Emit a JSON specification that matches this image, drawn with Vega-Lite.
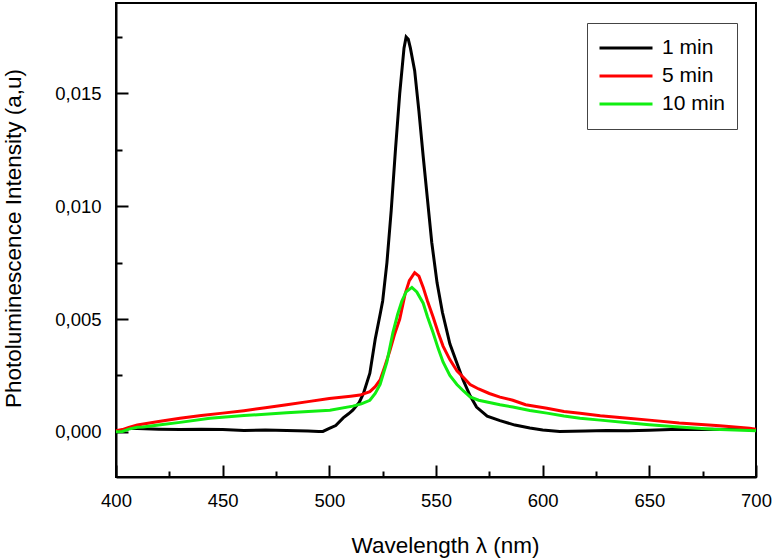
{
  "$schema": "https://vega.github.io/schema/vega-lite/v6.json",
  "autosize": "none",
  "padding": {"left": 116, "top": 3, "right": 18, "bottom": 81},
  "width": 640,
  "height": 474,
  "background": "white",
  "config": {
    "view": {"stroke": "#000", "strokeWidth": 2},
    "font": "Liberation Sans",
    "axis": {"grid": false}
  },
  "datasets": {
    "pl": [
      {"t": "1 min", "w": 400, "v": 0.00005},
      {"t": "1 min", "w": 403, "v": 0.00005},
      {"t": "1 min", "w": 406, "v": 0.00015},
      {"t": "1 min", "w": 410, "v": 0.00015},
      {"t": "1 min", "w": 420, "v": 0.00012},
      {"t": "1 min", "w": 430, "v": 0.0001},
      {"t": "1 min", "w": 440, "v": 0.00012},
      {"t": "1 min", "w": 450, "v": 0.0001},
      {"t": "1 min", "w": 460, "v": 0.00006},
      {"t": "1 min", "w": 470, "v": 0.00008},
      {"t": "1 min", "w": 480, "v": 0.00006},
      {"t": "1 min", "w": 490, "v": 0.00004},
      {"t": "1 min", "w": 495, "v": 0.00002},
      {"t": "1 min", "w": 497, "v": 0.00002},
      {"t": "1 min", "w": 500, "v": 0.00015},
      {"t": "1 min", "w": 503, "v": 0.00028},
      {"t": "1 min", "w": 506.5, "v": 0.00062},
      {"t": "1 min", "w": 509, "v": 0.0008},
      {"t": "1 min", "w": 511, "v": 0.00096},
      {"t": "1 min", "w": 514, "v": 0.0013},
      {"t": "1 min", "w": 516, "v": 0.0017},
      {"t": "1 min", "w": 519, "v": 0.0026},
      {"t": "1 min", "w": 521.5, "v": 0.0041},
      {"t": "1 min", "w": 524, "v": 0.0053},
      {"t": "1 min", "w": 525, "v": 0.0058},
      {"t": "1 min", "w": 527, "v": 0.0075},
      {"t": "1 min", "w": 529, "v": 0.0098},
      {"t": "1 min", "w": 531, "v": 0.0125},
      {"t": "1 min", "w": 533, "v": 0.015},
      {"t": "1 min", "w": 535, "v": 0.017},
      {"t": "1 min", "w": 536, "v": 0.0175},
      {"t": "1 min", "w": 537, "v": 0.0174},
      {"t": "1 min", "w": 538, "v": 0.017},
      {"t": "1 min", "w": 540, "v": 0.016},
      {"t": "1 min", "w": 542, "v": 0.0142},
      {"t": "1 min", "w": 544, "v": 0.0122},
      {"t": "1 min", "w": 546, "v": 0.0103},
      {"t": "1 min", "w": 548, "v": 0.0084},
      {"t": "1 min", "w": 550.5, "v": 0.0066},
      {"t": "1 min", "w": 553, "v": 0.0053},
      {"t": "1 min", "w": 556.5, "v": 0.0039},
      {"t": "1 min", "w": 560, "v": 0.003},
      {"t": "1 min", "w": 562.7, "v": 0.0023},
      {"t": "1 min", "w": 566, "v": 0.0016},
      {"t": "1 min", "w": 569, "v": 0.0011},
      {"t": "1 min", "w": 574, "v": 0.0007},
      {"t": "1 min", "w": 580, "v": 0.0005},
      {"t": "1 min", "w": 587, "v": 0.0003},
      {"t": "1 min", "w": 594, "v": 0.00017},
      {"t": "1 min", "w": 600, "v": 0.00008},
      {"t": "1 min", "w": 608, "v": 0.00002},
      {"t": "1 min", "w": 620, "v": 0.00004},
      {"t": "1 min", "w": 630, "v": 0.00006},
      {"t": "1 min", "w": 640, "v": 0.00005},
      {"t": "1 min", "w": 650, "v": 0.00007},
      {"t": "1 min", "w": 660, "v": 0.0001},
      {"t": "1 min", "w": 670, "v": 0.0001},
      {"t": "1 min", "w": 680, "v": 0.00012},
      {"t": "1 min", "w": 690, "v": 0.0001},
      {"t": "1 min", "w": 700, "v": 0.0001},

      {"t": "5 min", "w": 400, "v": 0.00005},
      {"t": "5 min", "w": 403, "v": 0.0001},
      {"t": "5 min", "w": 406, "v": 0.0002},
      {"t": "5 min", "w": 410, "v": 0.0003},
      {"t": "5 min", "w": 420, "v": 0.00046},
      {"t": "5 min", "w": 430, "v": 0.0006},
      {"t": "5 min", "w": 440, "v": 0.00072},
      {"t": "5 min", "w": 450, "v": 0.00083},
      {"t": "5 min", "w": 460, "v": 0.00094},
      {"t": "5 min", "w": 470, "v": 0.00107},
      {"t": "5 min", "w": 480, "v": 0.0012},
      {"t": "5 min", "w": 490, "v": 0.00134},
      {"t": "5 min", "w": 500, "v": 0.00148},
      {"t": "5 min", "w": 510, "v": 0.00158},
      {"t": "5 min", "w": 514.4, "v": 0.00163},
      {"t": "5 min", "w": 519, "v": 0.00178},
      {"t": "5 min", "w": 521.5, "v": 0.002},
      {"t": "5 min", "w": 523.8, "v": 0.0023},
      {"t": "5 min", "w": 526, "v": 0.0029},
      {"t": "5 min", "w": 528.4, "v": 0.0036},
      {"t": "5 min", "w": 530.5, "v": 0.0043},
      {"t": "5 min", "w": 533, "v": 0.005},
      {"t": "5 min", "w": 535.5, "v": 0.0061},
      {"t": "5 min", "w": 537.5, "v": 0.0067},
      {"t": "5 min", "w": 540, "v": 0.00705},
      {"t": "5 min", "w": 542, "v": 0.0069},
      {"t": "5 min", "w": 544, "v": 0.0064},
      {"t": "5 min", "w": 546, "v": 0.0058},
      {"t": "5 min", "w": 548.6, "v": 0.0051},
      {"t": "5 min", "w": 551, "v": 0.0044},
      {"t": "5 min", "w": 553.3, "v": 0.0038},
      {"t": "5 min", "w": 556.5, "v": 0.0032},
      {"t": "5 min", "w": 559.8, "v": 0.0027},
      {"t": "5 min", "w": 563, "v": 0.0024},
      {"t": "5 min", "w": 566, "v": 0.0021},
      {"t": "5 min", "w": 570, "v": 0.0019},
      {"t": "5 min", "w": 575, "v": 0.0017},
      {"t": "5 min", "w": 580, "v": 0.00154},
      {"t": "5 min", "w": 586, "v": 0.0014},
      {"t": "5 min", "w": 592, "v": 0.0012},
      {"t": "5 min", "w": 602, "v": 0.00105},
      {"t": "5 min", "w": 610, "v": 0.0009},
      {"t": "5 min", "w": 617.5, "v": 0.00082},
      {"t": "5 min", "w": 627, "v": 0.00071},
      {"t": "5 min", "w": 640, "v": 0.0006},
      {"t": "5 min", "w": 650, "v": 0.00052},
      {"t": "5 min", "w": 664, "v": 0.00039},
      {"t": "5 min", "w": 683, "v": 0.00027},
      {"t": "5 min", "w": 697, "v": 0.00016},
      {"t": "5 min", "w": 700, "v": 0.00012},

      {"t": "10 min", "w": 400, "v": 0.0},
      {"t": "10 min", "w": 403, "v": 0.00002},
      {"t": "10 min", "w": 406, "v": 0.00012},
      {"t": "10 min", "w": 410, "v": 0.0002},
      {"t": "10 min", "w": 412.7, "v": 0.00022},
      {"t": "10 min", "w": 420, "v": 0.0003},
      {"t": "10 min", "w": 430, "v": 0.00042},
      {"t": "10 min", "w": 444, "v": 0.0006},
      {"t": "10 min", "w": 460, "v": 0.00072},
      {"t": "10 min", "w": 480, "v": 0.00085},
      {"t": "10 min", "w": 500.3, "v": 0.00096},
      {"t": "10 min", "w": 511, "v": 0.00114},
      {"t": "10 min", "w": 515, "v": 0.00124},
      {"t": "10 min", "w": 519, "v": 0.0014},
      {"t": "10 min", "w": 521.5, "v": 0.0017},
      {"t": "10 min", "w": 523.8, "v": 0.0021},
      {"t": "10 min", "w": 527, "v": 0.0031},
      {"t": "10 min", "w": 529.8, "v": 0.0044},
      {"t": "10 min", "w": 532, "v": 0.0052},
      {"t": "10 min", "w": 534, "v": 0.0058},
      {"t": "10 min", "w": 536, "v": 0.0062},
      {"t": "10 min", "w": 538.7, "v": 0.0064},
      {"t": "10 min", "w": 541, "v": 0.0062},
      {"t": "10 min", "w": 544, "v": 0.0057},
      {"t": "10 min", "w": 546, "v": 0.0051},
      {"t": "10 min", "w": 548.6, "v": 0.0044},
      {"t": "10 min", "w": 551, "v": 0.0037},
      {"t": "10 min", "w": 553.3, "v": 0.0031},
      {"t": "10 min", "w": 556.5, "v": 0.0025},
      {"t": "10 min", "w": 559.8, "v": 0.0021},
      {"t": "10 min", "w": 563, "v": 0.0018},
      {"t": "10 min", "w": 566, "v": 0.00155},
      {"t": "10 min", "w": 570, "v": 0.0014},
      {"t": "10 min", "w": 575, "v": 0.0013},
      {"t": "10 min", "w": 580, "v": 0.0012},
      {"t": "10 min", "w": 586, "v": 0.0011},
      {"t": "10 min", "w": 594, "v": 0.00095},
      {"t": "10 min", "w": 602, "v": 0.00083},
      {"t": "10 min", "w": 610, "v": 0.0007},
      {"t": "10 min", "w": 617.5, "v": 0.0006},
      {"t": "10 min", "w": 627, "v": 0.00052},
      {"t": "10 min", "w": 640, "v": 0.0004},
      {"t": "10 min", "w": 650, "v": 0.00032},
      {"t": "10 min", "w": 664, "v": 0.00022},
      {"t": "10 min", "w": 680, "v": 0.00012},
      {"t": "10 min", "w": 700, "v": 0.00005}
    ]
  },
  "data": {"name": "pl"},
  "mark": {"type": "line", "strokeWidth": 3, "interpolate": "linear"},
  "encoding": {
    "x": {
      "field": "w",
      "type": "quantitative",
      "scale": {"domain": [400, 700], "nice": false, "zero": false},
      "axis": {
        "values": [400, 425, 450, 475, 500, 525, 550, 575, 600, 625, 650, 675, 700],
        "labelExpr": "datum.value % 50 === 0 ? datum.label : ''",
        "tickSize": {"condition": {"test": "datum.value % 50 === 0", "value": -12}, "value": -6},
        "tickColor": "#000",
        "tickWidth": 2,
        "domainColor": "#000",
        "domainWidth": 2,
        "labelFont": "Liberation Sans",
        "labelFontSize": 18.5,
        "labelColor": "#000",
        "labelPadding": 26,
        "labelFlush": false,
        "title": "Wavelength λ (nm)",
        "titleFont": "Liberation Sans",
        "titleFontSize": 22.5,
        "titleFontWeight": "normal",
        "titleColor": "#000",
        "titleX": 329,
        "titleY": 75,
        "titleBaseline": "alphabetic",
        "titleAlign": "center"
      }
    },
    "y": {
      "field": "v",
      "type": "quantitative",
      "scale": {"domain": [-0.002, 0.019], "nice": false, "zero": false},
      "axis": {
        "values": [0, 0.0025, 0.005, 0.0075, 0.01, 0.0125, 0.015, 0.0175],
        "labelExpr": "round(datum.value*10000) % 50 === 0 ? replace(format(datum.value, '.3f'), '.', ',') : ''",
        "tickSize": {"condition": {"test": "round(datum.value*10000) % 50 === 0", "value": -12}, "value": -6},
        "tickColor": "#000",
        "tickWidth": 2,
        "domainColor": "#000",
        "domainWidth": 2,
        "labelFont": "Liberation Sans",
        "labelFontSize": 18.5,
        "labelColor": "#000",
        "labelPadding": 27,
        "labelFlush": false,
        "title": "Photoluminescence Intensity (a,u)",
        "titleFont": "Liberation Sans",
        "titleFontSize": 22.5,
        "titleFontWeight": "normal",
        "titleColor": "#000",
        "titleAngle": -90,
        "titleX": -96,
        "titleY": 235,
        "titleBaseline": "alphabetic",
        "titleAlign": "center"
      }
    },
    "color": {
      "field": "t",
      "type": "nominal",
      "scale": {"domain": ["1 min", "5 min", "10 min"], "range": ["#000000", "#ff0000", "#11ee11"]},
      "legend": {
        "title": null,
        "orient": "none",
        "legendX": 471,
        "legendY": 20,
        "symbolType": "stroke",
        "symbolSize": 2809,
        "symbolStrokeWidth": 3,
        "clipHeight": 28,
        "labelOffset": 8,
        "labelFont": "Liberation Sans",
        "labelFontSize": 21,
        "labelColor": "#000",
        "padding": 11,
        "strokeColor": "#444",
        "fillColor": "white",
        "rowPadding": 0
      }
    }
  }
}
